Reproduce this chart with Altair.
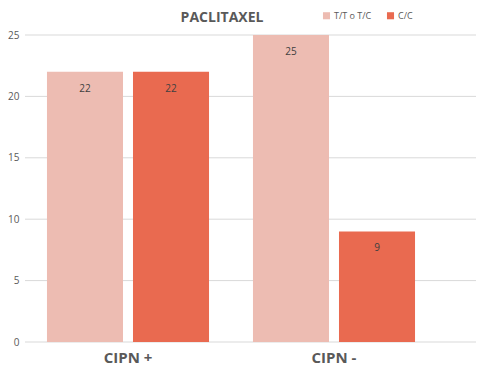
import altair as alt
import pandas as pd

groups = ["CIPN +", "CIPN +", "CIPN -", "CIPN -"]
genotypes = ["T/T o T/C", "C/C", "T/T o T/C", "C/C"]
values = [22, 22, 25, 9]
y_ticks = [0, 5, 10, 15, 20, 25]
colors = ["#EDBCB2", "#E96A50"]
title_text = "PACLITAXEL"

df = pd.DataFrame({"group": groups, "genotype": genotypes, "value": values})
grid_df = pd.DataFrame({"tick": y_ticks})

W, H = 451, 307
FONT = "Open Sans"

x = alt.X("group:N", sort=["CIPN +", "CIPN -"], title=None,
          scale=alt.Scale(range=[0, 412], paddingInner=0, paddingOuter=0),
          axis=alt.Axis(labelAngle=0, labelFontSize=15, labelFontWeight="bold",
                        labelColor="#595959", labelFont=FONT, domain=False,
                        ticks=False, labelPadding=8))
xo = alt.XOffset("genotype:N", sort=["T/T o T/C", "C/C"],
                 scale=alt.Scale(paddingInner=0.116, paddingOuter=0.2555))
yscale = alt.Scale(domain=[0, 25], nice=False)
yaxis = alt.Axis(values=y_ticks, domain=False, ticks=False, grid=False,
                 labelFontSize=10, labelColor="#595959", labelFont=FONT,
                 labelPadding=6)

grid = alt.Chart(grid_df).mark_rule(color="#D9D9D9", strokeWidth=1).encode(
    x=alt.value(0), x2=alt.value(W),
    y=alt.Y("tick:Q", scale=yscale, title=None, axis=yaxis),
)

bars = alt.Chart(df).mark_bar().encode(
    x=x, xOffset=xo,
    y=alt.Y("value:Q", scale=yscale, title=None, axis=yaxis),
    color=alt.Color("genotype:N", sort=["T/T o T/C", "C/C"],
                    scale=alt.Scale(domain=["T/T o T/C", "C/C"], range=colors),
                    legend=alt.Legend(title=None, orient="none", direction="horizontal",
                                      legendX=297, legendY=-24, symbolType="square",
                                      symbolSize=50, symbolStrokeWidth=0,
                                      labelFontSize=9, labelColor="#595959",
                                      labelFont=FONT, columnPadding=14,
                                      symbolOffset=0, labelOffset=3)),
)

labels = alt.Chart(df).mark_text(baseline="middle", dy=17, fontSize=10,
                                 color="#404040", font=FONT).encode(
    x=x, xOffset=xo,
    y=alt.Y("value:Q", scale=yscale, title=None, axis=yaxis),
    text=alt.Text("value:Q"),
)

title = alt.Chart(pd.DataFrame({"t": [title_text]})).mark_text(
    fontSize=14, fontWeight="bold", color="#595959", font=FONT,
    align="center", baseline="middle").encode(
    x=alt.value(197), y=alt.value(-17), text="t:N")

chart = (grid + bars + labels + title).properties(
    width=W, height=H,
    autosize=alt.AutoSizeParams(type="none"),
    padding={"left": 17, "top": 27, "right": 0, "bottom": 24},
).configure_view(stroke=None)

chart.save("out.html", embed_options={"renderer": "svg", "actions": False})
